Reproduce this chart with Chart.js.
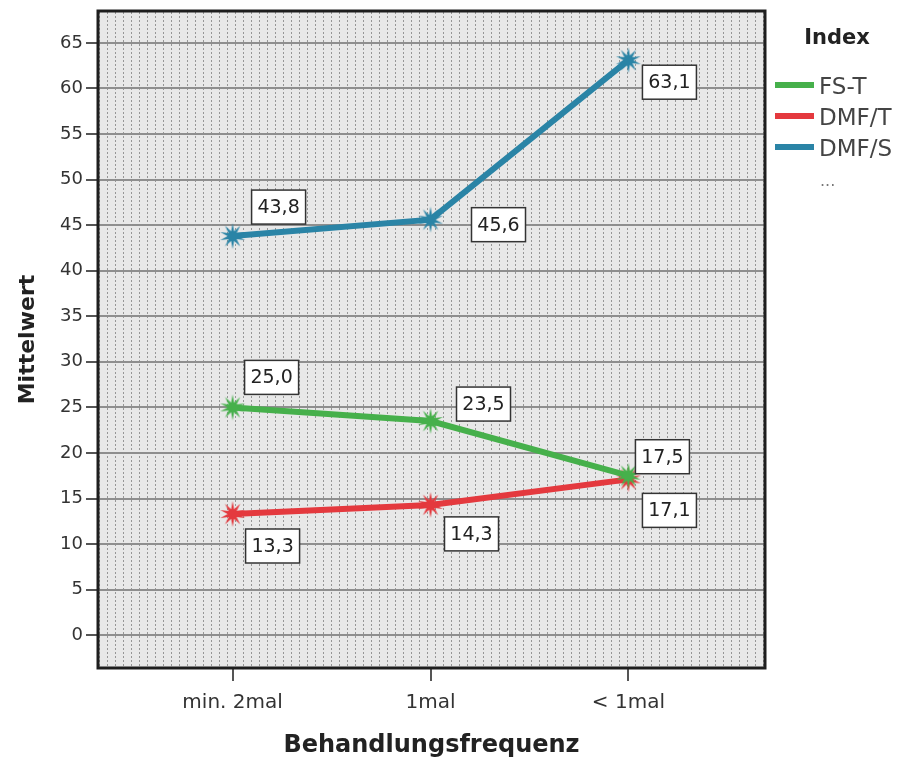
<!DOCTYPE html>
<html>
<head>
<meta charset="utf-8">
<script src="https://cdn.jsdelivr.net/npm/chart.js@4"></script>
<style>
    html, body { margin: 0; padding: 0; background: #fff; }
    #wrap { width: 905px; height: 764px; }
</style>
</head>
<body>
<div id="wrap"><canvas id="freqChart" width="905" height="764"></canvas></div>
<script>
const categories = ['min. 2mal', '1mal', '< 1mal'];
const fsT = [25.0, 23.5, 17.5];
const dmfT = [13.3, 14.3, 17.1];
const dmfS = [43.8, 45.6, 63.1];
const yTicks = [0, 5, 10, 15, 20, 25, 30, 35, 40, 45, 50, 55, 60, 65];

// where SPSS put the value boxes, relative to the point (px)
const labelShift = {
    'FS-T': [[39, -30], [53, -17], [34, -19]],
    'DMF/T': [[40, 32], [41, 29], [41, 31]],
    'DMF/S': [[46, -29], [68, 5], [41, 22]]
};

const FONT = '"DejaVu Sans", Verdana, sans-serif';

// spiky star marker like the SPSS one
function starMarker(color) {
    const c = document.createElement('canvas');
    c.width = 28; c.height = 28;
    const p = c.getContext('2d');
    const spikes = 10, outer = 13, inner = 5;
    p.beginPath();
    for (let k = 0; k < spikes * 2; k++) {
        const r = k % 2 ? inner : outer;
        const ang = Math.PI * k / spikes - Math.PI / 2;
        const px = 14 + r * Math.cos(ang), py = 14 + r * Math.sin(ang);
        if (k === 0) p.moveTo(px, py); else p.lineTo(px, py);
    }
    p.closePath();
    p.fillStyle = color;
    p.fill();
    return c;
}

function makeSeries(label, values, color) {
    return {
        label: label,
        data: values.map((v, i) => ({x: i, y: v})),
        borderColor: color,
        backgroundColor: color,
        borderWidth: 6,
        pointStyle: starMarker(color),
        pointRadius: 13,
        fill: false,
        tension: 0
    };
}

// dotted grey SPSS background
function dotPattern(ctx) {
    const c = document.createElement('canvas');
    c.width = 8; c.height = 4;
    const p = c.getContext('2d');
    p.fillStyle = '#e8e8e8';
    p.fillRect(0, 0, 8, 4);
    p.fillStyle = '#969696';
    p.fillRect(3, 0, 1, 2);
    return ctx.createPattern(c, 'repeat');
}

const spssLook = {
    id: 'spssLook',
    beforeDraw(chart) {
        const {ctx, chartArea: a} = chart;
        ctx.save();
        ctx.fillStyle = dotPattern(ctx);
        ctx.fillRect(a.left, a.top, a.right - a.left, a.bottom - a.top);
        ctx.restore();
    },
    afterDatasetsDraw(chart) {
        const ctx = chart.ctx;
        ctx.save();
        chart.data.datasets.forEach((ds, di) => {
            const meta = chart.getDatasetMeta(di);
            meta.data.forEach((pt, i) => {
                const sh = labelShift[ds.label][i];
                const cx = pt.x + sh[0], cy = pt.y + sh[1];
                const w = 54, h = 34;
                ctx.fillStyle = '#fff';
                ctx.fillRect(cx - w / 2, cy - h / 2, w, h);
                ctx.strokeStyle = '#333';
                ctx.lineWidth = 1.5;
                ctx.strokeRect(cx - w / 2, cy - h / 2, w, h);
                ctx.fillStyle = '#222';
                ctx.font = '19px ' + FONT;
                ctx.textAlign = 'center';
                ctx.textBaseline = 'middle';
                ctx.fillText(ds.data[i].y.toFixed(1).replace('.', ','), cx, cy + 1);
            });
        });
        ctx.restore();
    },
    afterDraw(chart) {
        const {ctx, chartArea: a} = chart;
        ctx.save();
        ctx.strokeStyle = '#1e1e1e';
        ctx.lineWidth = 3;
        ctx.strokeRect(a.left, a.top, a.right - a.left, a.bottom - a.top);

        // legend
        ctx.fillStyle = '#222';
        ctx.font = 'bold 21px ' + FONT;
        ctx.textAlign = 'center';
        ctx.textBaseline = 'middle';
        ctx.fillText('Index', 837, 39);
        ctx.textAlign = 'left';
        ctx.font = '23px ' + FONT;
        const rows = [85, 116, 147];
        chart.data.datasets.forEach((ds, i) => {
            ctx.strokeStyle = ds.borderColor;
            ctx.lineWidth = 6;
            ctx.beginPath();
            ctx.moveTo(775, rows[i]);
            ctx.lineTo(814, rows[i]);
            ctx.stroke();
            ctx.fillStyle = '#444';
            ctx.fillText(ds.label, 819, rows[i] + 3);
        });
        ctx.fillStyle = '#777';
        ctx.font = '16px ' + FONT;
        ctx.fillText('...', 820, 182);
        ctx.restore();
    }
};

const ctx = document.getElementById('freqChart').getContext('2d');
new Chart(ctx, {
    type: 'line',
    data: {
        datasets: [
            makeSeries('FS-T', fsT, '#46b04b'),
            makeSeries('DMF/T', dmfT, '#e4393e'),
            makeSeries('DMF/S', dmfS, '#2a84a6')
        ]
    },
    options: {
        responsive: false,
        animation: false,
        layout: {autoPadding: false, padding: {top: 11, right: 140, left: 0, bottom: 0}},
        plugins: {
            legend: {display: false},
            tooltip: {enabled: false}
        },
        scales: {
            x: {
                type: 'linear',
                min: -0.68,
                max: 2.69,
                afterBuildTicks: scale => { scale.ticks = categories.map((c, i) => ({value: i})); },
                afterFit: scale => {
                    scale.height = 96;
                    scale.paddingLeft = 0;
                    scale.paddingRight = 0;
                },
                border: {display: false},
                grid: {drawOnChartArea: false, drawTicks: true, tickLength: 13, color: '#555', lineWidth: 2},
                ticks: {
                    color: '#333',
                    font: {family: FONT, size: 20},
                    padding: 10,
                    maxRotation: 0,
                    callback: v => categories[v]
                },
                title: {
                    display: true,
                    text: 'Behandlungsfrequenz',
                    color: '#222',
                    font: {family: FONT, size: 24, weight: 'bold'},
                    padding: {top: 10}
                }
            },
            y: {
                min: -3.6,
                max: 68.5,
                afterBuildTicks: scale => { scale.ticks = yTicks.map(v => ({value: v})); },
                afterFit: scale => {
                    scale.width = 98;
                    scale.paddingTop = 0;
                    scale.paddingBottom = 0;
                },
                border: {display: false},
                grid: {color: '#8e8e8e', lineWidth: 2, tickLength: 12, tickColor: '#555', tickWidth: 2},
                ticks: {
                    color: '#333',
                    font: {family: FONT, size: 18},
                    padding: 3
                },
                title: {
                    display: true,
                    text: 'Mittelwert',
                    color: '#222',
                    font: {family: FONT, size: 22, weight: 'bold'},
                    padding: {top: 15, bottom: 0}
                }
            }
        }
    },
    plugins: [spssLook]
});
</script>
</body>
</html>
